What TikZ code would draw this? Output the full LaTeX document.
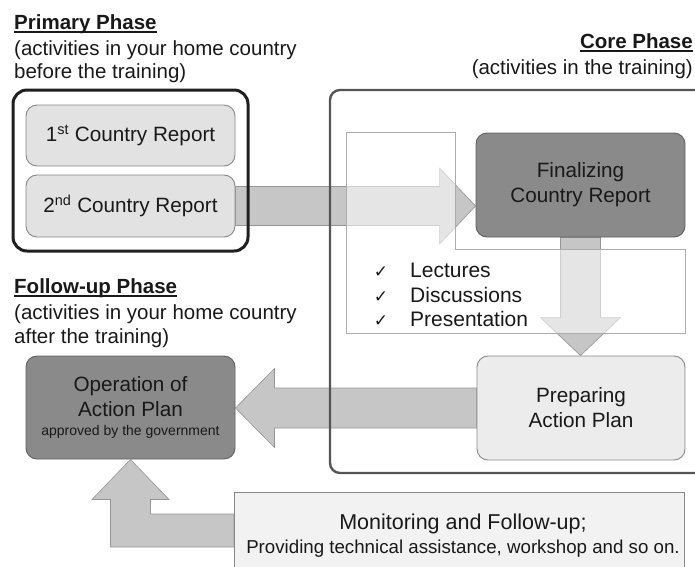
\documentclass[tikz,border=0pt]{standalone}
\usepackage{fontspec}
\setmainfont{Liberation Sans}
\newfontfamily\symfont{DejaVu Sans}
\usetikzlibrary{calc}

\definecolor{inkc}{RGB}{25,25,25}
\definecolor{darkfill}{RGB}{138,138,138}
\definecolor{darkline}{RGB}{95,95,95}
\definecolor{lightfill}{RGB}{226,226,226}
\definecolor{palefill}{RGB}{236,236,236}
\definecolor{monfill}{RGB}{242,242,242}
\definecolor{paleline}{RGB}{135,135,135}
\definecolor{arrowfill}{RGB}{198,198,198}
\definecolor{arrowline}{RGB}{150,150,150}
\definecolor{frameline}{RGB}{85,85,85}

% bold heading with a rule just under the baseline
\newcommand\phasehead[1]{\setbox0\hbox{#1}\rlap{\rule[-3.8pt]{\wd0}{1.4pt}}\box0}
\newcommand\sizeA{\fontsize{20.5}{25}\selectfont}

\pgfdeclarelayer{arrowlayer}
\pgfdeclarelayer{veil}
\pgfsetlayers{arrowlayer,veil,main}

\begin{document}
\begin{tikzpicture}[x=1pt,y=-1pt,
  every node/.style={inner sep=0pt, text=inkc},
  stagebox/.style={draw=paleline, line width=0.9pt, fill=lightfill, rounded corners=11pt,
    align=center, font=\fontsize{20.7}{25}\selectfont},
  darkbox/.style={stagebox, fill=darkfill, draw=darkline},
  flowarrow/.style={fill=arrowfill, draw=arrowline, line width=0.6pt, line join=miter},
  headtxt/.style={anchor=base west, font=\bfseries\sizeA},
  subtxt/.style={anchor=base west, font=\sizeA},
  listtxt/.style={anchor=base west, font=\fontsize{21}{25}\selectfont},
  tick/.style={anchor=base, font=\symfont\fontsize{17}{18}\selectfont},
]
\useasboundingbox (0,0) rectangle (695,566);
\clip (0,0) rectangle (695,566);

% ---------- headings ----------
\node[headtxt] (hprim) at (14,29) {\phasehead{Primary Phase}};
\node[subtxt] (hprim1) at (14,55) {(activities in your home country};
\node[subtxt] (hprim2) at (14,78) {before the training)};

\node[headtxt, anchor=base east] (hcore) at (693,48) {\phasehead{Core Phase}};
\node[subtxt, anchor=base east] (hcore1) at (693,74) {(activities in the training)};

\node[headtxt] (hfol) at (14,293) {\phasehead{Follow-up Phase}};
\node[subtxt] (hfol1) at (14,319) {(activities in your home country};
\node[subtxt] (hfol2) at (14,343) {after the training)};

% ---------- stage boxes ----------
\node[stagebox, minimum width=209pt, minimum height=61pt] (r1) at (130.5,135.5)
  {1\textsuperscript{st} Country Report};
\node[stagebox, minimum width=209pt, minimum height=62pt] (r2) at (130.5,206)
  {2\textsuperscript{nd} Country Report};
\node[darkbox, minimum width=209pt, minimum height=104pt] (fin) at (580.5,185)
  {Finalizing\\Country Report};
\node[stagebox, fill=palefill, minimum width=208pt, minimum height=104pt] (prep) at (581,408)
  {Preparing\\Action Plan};
\node[darkbox, minimum width=209pt, minimum height=103pt] (op) at (130.5,407.5)
  {Operation of\\Action Plan\\[-6pt]{\fontsize{14}{15}\selectfont approved by the government}};
\node[draw=paleline, line width=0.9pt, fill=monfill, minimum width=450pt, minimum height=84pt,
  anchor=north west] (mon) at (234,492) {};
\node[anchor=base, font=\fontsize{21.5}{24}\selectfont] (mon1) at (463,529) {Monitoring and Follow-up;};
\node[anchor=base, font=\fontsize{18.7}{20}\selectfont] (mon2) at (463,553)
  {Providing technical assistance, workshop and so on.};

% ---------- phase frames ----------
\node[draw=black!88, line width=3pt, rounded corners=14pt, minimum width=235pt,
  minimum height=161pt] (prim) at (130.5,170.5) {};
\node[draw=frameline, line width=2.4pt, rounded corners=10pt, minimum width=375pt,
  minimum height=383pt] (core) at (517.5,281.5) {};

% ---------- activity list ----------
\node[tick] (t1) at (381,277) {✓};
\node[tick] (t2) at (381,302) {✓};
\node[tick] (t3) at (381,326) {✓};
\node[listtxt] (l1) at (410,277) {Lectures};
\node[listtxt] (l2) at (410,302) {Discussions};
\node[listtxt] (l3) at (410,326) {Presentation};

% ---------- translucent panel behind the list ----------
\begin{pgfonlayer}{veil}
\filldraw[fill=white, fill opacity=0.55, draw=gray!65, line width=0.8pt]
  (346,132) -- (455,132) -- (455,249) -- (685,249) -- (685,333) -- (346,333) -- cycle;
\end{pgfonlayer}

% ---------- block arrows ----------
\begin{pgfonlayer}{arrowlayer}
% 2nd report -> finalizing
\coordinate (ra0) at (r2.east);
\coordinate (ra1) at (fin.west |- r2.east);
\filldraw[flowarrow] ($(ra0)+(0,-19.5)$) -- ($(ra1)+(-36,-19.5)$) -- ($(ra1)+(-36,-38)$)
  -- (ra1) -- ($(ra1)+(-36,38)$) -- ($(ra1)+(-36,19.5)$) -- ($(ra0)+(0,19.5)$) -- cycle;
% finalizing -> preparing
\coordinate (da0) at (fin.south);
\coordinate (da1) at (prep.north -| fin.south);
\filldraw[flowarrow] ($(da0)+(-20,0)$) -- ($(da1)+(-20,-38)$) -- ($(da1)+(-40,-38)$)
  -- (da1) -- ($(da1)+(40,-38)$) -- ($(da1)+(20,-38)$) -- ($(da0)+(20,0)$) -- cycle;
% preparing -> operation
\coordinate (la0) at (prep.west);
\coordinate (la1) at (op.east |- prep.west);
\filldraw[flowarrow] ($(la0)+(0,-20)$) -- ($(la1)+(39,-20)$) -- ($(la1)+(39,-39.5)$)
  -- (la1) -- ($(la1)+(39,39.5)$) -- ($(la1)+(39,20)$) -- ($(la0)+(0,20)$) -- cycle;
% monitoring -> operation (elbow)
\coordinate (ea0) at ($(mon.north west)+(0,38.5)$);
\coordinate (ea1) at (op.south);
\coordinate (ea2) at (ea1 |- ea0);
\filldraw[flowarrow] ($(ea0)+(0,-16.5)$) -- ($(ea2)+(20,-16.5)$) -- ($(ea1)+(20,40)$)
  -- ($(ea1)+(38.5,40)$) -- (ea1) -- ($(ea1)+(-38.5,40)$) -- ($(ea1)+(-20,40)$)
  -- ($(ea2)+(-20,16.5)$) -- ($(ea0)+(0,16.5)$) -- cycle;
\end{pgfonlayer}
\end{tikzpicture}
\end{document}
